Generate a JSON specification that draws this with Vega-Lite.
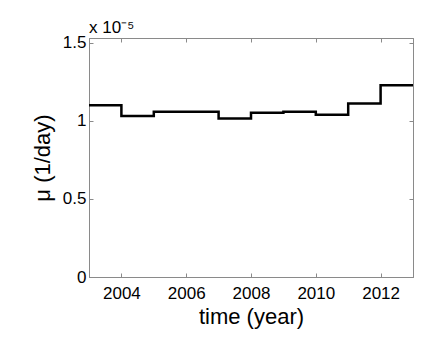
{
  "$schema": "https://vega.github.io/schema/vega-lite/v6.json",
  "width": 324,
  "height": 239,
  "autosize": {"type": "none"},
  "padding": {"left": 89, "top": 38, "right": 27, "bottom": 67},
  "background": "white",
  "config": {
    "font": "Liberation Sans",
    "view": {"stroke": "#8a8a8a", "strokeWidth": 1},
    "axis": {
      "domainColor": "#8a8a8a",
      "tickColor": "#8a8a8a",
      "grid": false,
      "labelColor": "black",
      "titleColor": "black",
      "labelFont": "Liberation Sans",
      "titleFont": "Liberation Sans",
      "labelFontSize": 17,
      "titleFontSize": 22,
      "titleFontWeight": "normal",
      "tickSize": -4
    },
    "title": {"fontSize": 17}
  },
  "title": {
    "text": "x 10⁻⁵",
    "anchor": "start",
    "frame": "group",
    "fontSize": 17,
    "fontWeight": "normal",
    "font": "Liberation Sans",
    "baseline": "bottom",
    "offset": -6,
    "dy": 14,
    "dx": 0
  },
  "data": {
    "values": [
      {"year": 2003, "mu": 1.099e-5},
      {"year": 2004, "mu": 1.031e-5},
      {"year": 2005, "mu": 1.058e-5},
      {"year": 2006, "mu": 1.058e-5},
      {"year": 2007, "mu": 1.014e-5},
      {"year": 2008, "mu": 1.052e-5},
      {"year": 2009, "mu": 1.058e-5},
      {"year": 2010, "mu": 1.038e-5},
      {"year": 2011, "mu": 1.11e-5},
      {"year": 2012, "mu": 1.227e-5},
      {"year": 2013, "mu": 1.227e-5}
    ]
  },
  "layer": [
    {
      "mark": {"type": "line", "interpolate": "step-after", "color": "black", "strokeWidth": 2.5, "clip": true},
      "encoding": {
        "x": {
          "field": "year",
          "type": "quantitative",
          "scale": {"domain": [2003, 2013], "nice": false, "zero": false},
          "axis": {
            "values": [2004, 2006, 2008, 2010, 2012],
            "format": "d",
            "title": "time (year)",
            "labelPadding": 12,
            "titlePadding": 5
          }
        },
        "y": {
          "field": "mu",
          "type": "quantitative",
          "scale": {"domain": [0, 1.53e-5], "nice": false},
          "axis": {
            "values": [0, 0.5e-5, 1e-5, 1.5e-5],
            "labelExpr": "datum.value == 0 ? '0' : format(datum.value * 1e5, '~g')",
            "labelPadding": 7,
            "title": "μ (1/day)",
            "titlePadding": 8
          }
        }
      }
    },
    {
      "mark": {"type": "line", "interpolate": "step-after", "opacity": 0, "clip": true},
      "encoding": {
        "x": {
          "field": "year",
          "type": "quantitative",
          "axis": {
            "orient": "top",
            "values": [2004, 2006, 2008, 2010, 2012],
            "labels": false,
            "title": null
          }
        },
        "y": {
          "field": "mu",
          "type": "quantitative",
          "axis": {
            "orient": "right",
            "values": [0, 0.5e-5, 1e-5, 1.5e-5],
            "labels": false,
            "title": null
          }
        }
      }
    }
  ],
  "resolve": {"axis": {"x": "independent", "y": "independent"}}
}
